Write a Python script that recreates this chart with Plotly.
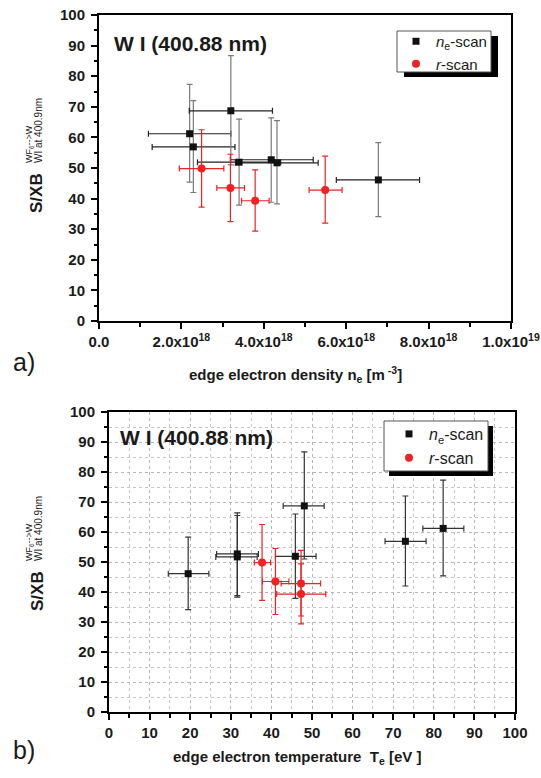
import plotly.graph_objects as go

# ---------------- data ----------------
# n_e-scan (black squares)
ne_scan_ne = [2.20e18, 2.29e18, 3.20e18, 3.40e18, 4.18e18, 4.32e18, 6.78e18]
ne_scan_ne_lo = [1.20e18, 1.29e18, 2.19e18, 2.39e18, 3.19e18, 3.31e18, 5.76e18]
ne_scan_ne_hi = [3.20e18, 3.30e18, 4.21e18, 4.41e18, 5.20e18, 5.32e18, 7.78e18]
ne_scan_S = [61.2, 56.9, 68.7, 51.9, 52.7, 51.7, 46.1]
ne_scan_S_lo = [45.4, 42.0, 51.0, 37.9, 38.8, 38.3, 34.1]
ne_scan_S_hi = [77.3, 72.0, 86.7, 66.0, 66.4, 65.5, 58.3]
ne_scan_Te = [82.3, 73.0, 48.1, 45.9, 31.6, 31.6, 19.5]
ne_scan_Te_lo = [77.3, 68.0, 42.9, 41.0, 26.5, 26.3, 14.6]
ne_scan_Te_hi = [87.4, 78.1, 53.0, 51.0, 36.8, 36.5, 24.6]

# r-scan (red circles)
r_scan_ne = [2.49e18, 3.19e18, 3.79e18, 5.49e18]
r_scan_ne_lo = [1.95e18, 2.86e18, 3.46e18, 5.10e18]
r_scan_ne_hi = [3.03e18, 3.53e18, 4.13e18, 5.90e18]
r_scan_S = [49.8, 43.5, 39.3, 42.8]
r_scan_S_lo = [37.2, 32.5, 29.4, 32.0]
r_scan_S_hi = [62.5, 54.5, 49.4, 53.9]
r_scan_Te = [37.7, 41.0, 47.3, 47.3]
r_scan_Te_lo = [35.8, 37.8, 41.3, 42.4]
r_scan_Te_hi = [39.8, 44.3, 53.4, 52.1]

# tick labels
a_x_tickvals = [0, 2e18, 4e18, 6e18, 8e18, 1e19]
a_x_ticktext = ["0.0", "2.0x10<sup>18</sup>", "4.0x10<sup>18</sup>",
                "6.0x10<sup>18</sup>", "8.0x10<sup>18</sup>", "1.0x10<sup>19</sup>"]

series_names = ["<i>n</i><sub>e</sub>-scan", "<i>r</i>-scan"]
title_text = "W I (400.88 nm)"

# ---------------- helpers ----------------
W, H = 541, 778
def px(x):
    return x / W
def py(y):
    return 1 - y / H

def plus(v, hi):
    return [h - a for a, h in zip(v, hi)]
def minus(v, lo):
    return [a - l for a, l in zip(v, lo)]

BLACK = "#111111"
RED = "#ee2222"
FONT = "Liberation Sans"
TXT = "#1a1a1a"

fig = go.Figure()

# ---- panel a ----
fig.add_trace(go.Scatter(
    x=ne_scan_ne, y=ne_scan_S, mode="markers", name=series_names[0],
    xaxis="x", yaxis="y", legend="legend",
    marker=dict(symbol="square", size=7, color=BLACK),
    error_x=dict(type="data", array=plus(ne_scan_ne, ne_scan_ne_hi),
                 arrayminus=minus(ne_scan_ne, ne_scan_ne_lo),
                 color="#222222", thickness=1.2, width=3),
    error_y=dict(type="data", array=plus(ne_scan_S, ne_scan_S_hi),
                 arrayminus=minus(ne_scan_S, ne_scan_S_lo),
                 color="#7a7a7a", thickness=1.2, width=3),
))
fig.add_trace(go.Scatter(
    x=r_scan_ne, y=r_scan_S, mode="markers", name=series_names[1],
    xaxis="x", yaxis="y", legend="legend",
    marker=dict(symbol="circle", size=8, color=RED),
    error_x=dict(type="data", array=plus(r_scan_ne, r_scan_ne_hi),
                 arrayminus=minus(r_scan_ne, r_scan_ne_lo),
                 color=RED, thickness=1.2, width=3),
    error_y=dict(type="data", array=plus(r_scan_S, r_scan_S_hi),
                 arrayminus=minus(r_scan_S, r_scan_S_lo),
                 color=RED, thickness=1.2, width=3),
))

# ---- panel b ----
fig.add_trace(go.Scatter(
    x=ne_scan_Te, y=ne_scan_S, mode="markers", name=series_names[0],
    xaxis="x2", yaxis="y2", legend="legend2",
    marker=dict(symbol="square", size=7, color=BLACK),
    error_x=dict(type="data", array=plus(ne_scan_Te, ne_scan_Te_hi),
                 arrayminus=minus(ne_scan_Te, ne_scan_Te_lo),
                 color="#333333", thickness=1.2, width=3),
    error_y=dict(type="data", array=plus(ne_scan_S, ne_scan_S_hi),
                 arrayminus=minus(ne_scan_S, ne_scan_S_lo),
                 color="#333333", thickness=1.2, width=3),
))
fig.add_trace(go.Scatter(
    x=r_scan_Te, y=r_scan_S, mode="markers", name=series_names[1],
    xaxis="x2", yaxis="y2", legend="legend2",
    marker=dict(symbol="circle", size=8, color=RED),
    error_x=dict(type="data", array=plus(r_scan_Te, r_scan_Te_hi),
                 arrayminus=minus(r_scan_Te, r_scan_Te_lo),
                 color=RED, thickness=1.2, width=3),
    error_y=dict(type="data", array=plus(r_scan_S, r_scan_S_hi),
                 arrayminus=minus(r_scan_S, r_scan_S_lo),
                 color=RED, thickness=1.2, width=3),
))

tickfont = dict(family=FONT, size=15, color=TXT, weight="bold")

def base_axis(**kw):
    d = dict(showline=True, linewidth=2, linecolor="black", mirror=True,
             zeroline=False, ticks="outside", ticklen=6, tickwidth=1.5,
             tickcolor="black", tickfont=tickfont, showgrid=False,
             automargin=False, ticklabeloverflow="allow")
    d.update(kw)
    return d

def inner_axis(**kw):
    d = dict(showline=False, zeroline=False, ticks="inside", ticklen=6,
             tickwidth=1.5, tickcolor="black", showticklabels=False,
             showgrid=False, automargin=False)
    d.update(kw)
    return d

grid_kw = dict(showgrid=True, gridcolor="#b5b5b5", griddash="dot", gridwidth=1)
minor_out = dict(ticks="outside", ticklen=3.5, tickwidth=1.5, tickcolor="black")
minor_in = dict(ticks="inside", ticklen=3.5, tickwidth=1.5, tickcolor="black")
minor_grid = dict(showgrid=True, gridcolor="#c4c4c4", griddash="dot", gridwidth=1)

dom_ax = [px(99), px(511)]
dom_ay = [py(321), py(15)]
dom_bx = [px(109), px(515)]
dom_by = [py(712), py(412)]

fig.update_layout(
    width=W, height=H, autosize=False,
    margin=dict(l=0, r=0, t=0, b=0, pad=0, autoexpand=False),
    paper_bgcolor="white", plot_bgcolor="white",
    xaxis=base_axis(domain=dom_ax, range=[0, 1e19], anchor="y",
                    tickmode="array", tickvals=a_x_tickvals, ticktext=a_x_ticktext,
                    minor=dict(tickmode="linear", tick0=0, dtick=1e18, **minor_out)),
    yaxis=base_axis(domain=dom_ay, range=[0, 100], anchor="x", dtick=10, tick0=0,
                    ticklabelstandoff=3,
                    minor=dict(dtick=5, tick0=0, **minor_out)),
    xaxis3=inner_axis(overlaying="x", anchor="y", side="top", range=[0, 1e19],
                      tickmode="array", tickvals=a_x_tickvals,
                      minor=dict(tickmode="linear", tick0=0, dtick=1e18, **minor_in)),
    yaxis3=inner_axis(overlaying="y", anchor="x", side="right", range=[0, 100],
                      dtick=10, tick0=0, minor=dict(dtick=5, tick0=0, **minor_in)),
    xaxis2=base_axis(domain=dom_bx, range=[0, 100], anchor="y2", dtick=10, tick0=0,
                     **grid_kw, minor=dict(dtick=5, tick0=0, **minor_out, **minor_grid)),
    yaxis2=base_axis(domain=dom_by, range=[0, 100], anchor="x2", dtick=10, tick0=0,
                     ticklabelstandoff=3,
                     **grid_kw, minor=dict(dtick=5, tick0=0, **minor_out, **minor_grid)),
    xaxis4=inner_axis(overlaying="x2", anchor="y2", side="top", range=[0, 100],
                      dtick=10, tick0=0, minor=dict(dtick=5, tick0=0, **minor_in)),
    yaxis4=inner_axis(overlaying="y2", anchor="x2", side="right", range=[0, 100],
                      dtick=10, tick0=0, minor=dict(dtick=5, tick0=0, **minor_in)),
    legend=dict(x=px(396), y=py(25), xanchor="left", yanchor="top",
                bgcolor="rgba(0,0,0,0)", borderwidth=0,
                font=dict(family=FONT, size=15, color=TXT)),
    legend2=dict(x=px(389), y=py(417), xanchor="left", yanchor="top",
                 bgcolor="rgba(0,0,0,0)", borderwidth=0,
                 font=dict(family=FONT, size=16, color=TXT)),
    showlegend=True,
)

# legend frames with drop shadow
shapes = []
for (x0, y0, x1, y1, sx, sy) in [(397, 31, 491, 72, 7, 5), (384, 421, 488, 471, 5, 5)]:
    shapes.append(dict(type="rect", xref="paper", yref="paper",
                       x0=px(x0 + sx), x1=px(x1 + sx), y0=py(y0 + sy), y1=py(y1 + sy),
                       fillcolor="black", line=dict(width=0), layer="above"))
    shapes.append(dict(type="rect", xref="paper", yref="paper",
                       x0=px(x0), x1=px(x1), y0=py(y0), y1=py(y1),
                       fillcolor="white", line=dict(color="#555555", width=1), layer="above"))
fig.update_layout(shapes=shapes)

def add_text(ann, text, x, y, size, bold=False, angle=0, xanchor="center", yanchor="middle"):
    f = dict(family=FONT, size=size, color=TXT)
    if bold:
        f["weight"] = "bold"
    ann.append(dict(text=text, x=px(x), y=py(y), xref="paper", yref="paper",
                    xanchor=xanchor, yanchor=yanchor, showarrow=False,
                    textangle=angle, font=f))

ann = []
# panel titles
add_text(ann, title_text, 112, 43, 21, bold=True, xanchor="left")
add_text(ann, title_text, 118, 437, 21, bold=True, xanchor="left")
# panel letters
add_text(ann, "a)", 24, 362, 25)
add_text(ann, "b)", 24, 750, 25)
# x titles
add_text(ann, "edge electron density n<sub>e</sub> [m<sup> -3</sup>]", 295, 374, 15, bold=True)
add_text(ann, "edge electron temperature  T<sub>e</sub> [eV ]", 297, 757, 15, bold=True)
# y titles (S/XB with stacked super/subscript)
for dy in [0, 398]:
    add_text(ann, "S/XB", 37, 193 + dy, 17, bold=True, angle=-90)
    add_text(ann, "WF<sub>6</sub>-->W", 29, 165 + dy, 9, angle=-90, yanchor="bottom")
    add_text(ann, "WI at 400.9nm", 38.5, 165 + dy, 10, angle=-90, yanchor="bottom")
fig.update_layout(annotations=ann)

fig.write_html("out.html", config={"displayModeBar": False},
               post_script="document.body.style.margin='0px';document.body.style.padding='0px';")
